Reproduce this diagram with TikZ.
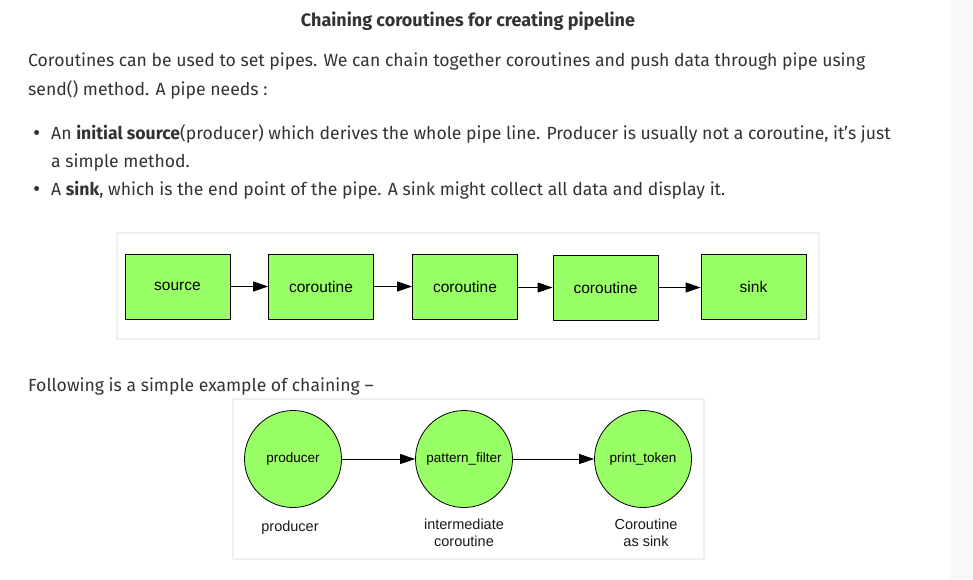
\documentclass[tikz,border=0pt]{standalone}
\usepackage{fontspec}
\setmainfont{Fira Sans}
\newfontfamily\diagfont{Liberation Sans}
\usetikzlibrary{arrows.meta}
\definecolor{boxgreen}{HTML}{99FF66}
\definecolor{bodytext}{HTML}{333333}
\definecolor{sidegray}{HTML}{F8F8F8}
\definecolor{panelline}{HTML}{F0F0F0}
\tikzset{
  body/.style={anchor=base west, inner sep=0pt, text=bodytext, font=\fontsize{17.6}{20}\selectfont},
  panel/.style={draw=panelline, fill=white, line width=1.5pt},
  pbox/.style={draw=black, fill=boxgreen, line width=0.8pt, minimum width=105pt, minimum height=65pt, inner sep=0pt, font=\diagfont\fontsize{15.5}{18}\selectfont},
  pcirc/.style={circle, draw=black, fill=boxgreen, line width=0.8pt, minimum size=97pt, inner sep=0pt, font=\diagfont\fontsize{13.5}{16}\selectfont},
  plabel/.style={align=center, inner sep=0pt, font=\diagfont\fontsize{14.5}{17}\selectfont, text=black!90},
  parrow/.style={-{Triangle[length=15pt,width=10pt]}, line width=0.8pt, black},
}
\begin{document}
\begin{tikzpicture}[x=1pt,y=-1pt]
\useasboundingbox (0,0) rectangle (973,579);
\fill[white] (0,0) rectangle (973,579);
\fill[sidegray] (950,0) rectangle (973,579);

% title
\node[anchor=base, inner sep=0pt, text=bodytext, font=\bfseries\fontsize{18}{20}\selectfont] (title) at (468,26) {Chaining coroutines for creating pipeline};

% paragraph
\node[body] (p1) at (28,66) {Coroutines can be used to set pipes. We can chain together coroutines and push data through pipe using};
\node[body] (p2) at (28,95) {send() method. A pipe needs :};
\node[body, font=\fontsize{22}{20}\selectfont] (b1dot) at (33,140) {•};
\node[body] (b1) at (51,139) {An \textbf{initial source}(producer) which derives the whole pipe line. Producer is usually not a coroutine, it’s just};
\node[body] (b1b) at (51,167) {a simple method.};
\node[body, font=\fontsize{22}{20}\selectfont] (b2dot) at (33,196) {•};
\node[body] (b2) at (51,195) {A \textbf{sink}, which is the end point of the pipe. A sink might collect all data and display it.};

% top panel
\draw[panel] (117,233) rectangle (819,339);
\node[pbox] (src) at (177.5,286.5) {source};
\node[pbox] (co1) at (321,286.5) {coroutine};
\node[pbox] (co2) at (465,286.5) {coroutine};
\node[pbox] (co3) at (605.5,287.5) {coroutine};
\node[pbox] (snk) at (753.5,286.5) {sink};
\draw[parrow] (src.east) -- (co1.west);
\draw[parrow] (co1.east) -- (co2.west);
\draw[parrow] (co2.east |- co3.west) -- (co3.west);
\draw[parrow] (co3.east) -- (co3.east -| snk.west);

\node[body] (follow) at (28,391) {Following is a simple example of chaining –};

% bottom panel
\draw[panel] (233,399) rectangle (704,559);
\node[pcirc] (prod) at (293,459) {producer};
\node[pcirc] (filt) at (464,459) {pattern\_filter};
\node[pcirc] (prnt) at (643,459) {print\_token};
\draw[parrow] (prod) -- (filt);
\draw[parrow] (filt) -- (prnt);
\node[plabel] (lprod) at (290,528) {producer};
\node[plabel] (lfilt) at (464,533) {intermediate\\coroutine};
\node[plabel] (lprnt) at (646,533) {Coroutine\\as sink};
\end{tikzpicture}
\end{document}
